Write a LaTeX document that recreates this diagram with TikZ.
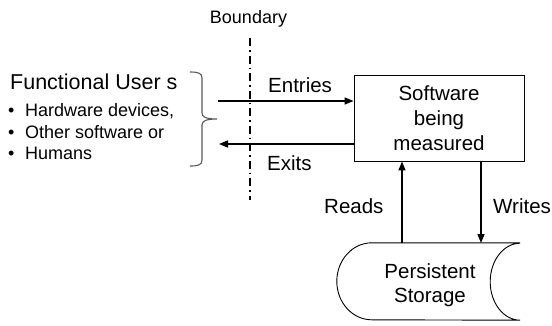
\documentclass[tikz,border=0pt]{standalone}
\usepackage{fontspec}
\setmainfont{Liberation Sans}
\usetikzlibrary{arrows.meta}
\begin{document}
\begin{tikzpicture}[x=1pt,y=-1pt,
  flow/.style={line width=1.4pt,-{Triangle[length=9pt,width=7pt]}},
  lbl/.style={font=\fontsize{20.5}{24}\selectfont,inner sep=0pt,anchor=base west},
  bul/.style={font=\fontsize{18}{21}\selectfont,inner sep=0pt,anchor=base west},
  outline/.style={line width=0.9pt,draw=black}]
\useasboundingbox (0,0) rectangle (552,325);

% system boundary
\node[font=\fontsize{18}{21}\selectfont,inner sep=0pt,anchor=base] (blabel) at (248.5,23) {Boundary};
\coordinate (btop) at (250,38);
\coordinate (bbot) at (250,200);
\draw[line width=1.6pt,dash pattern=on 8pt off 4pt on 1.5pt off 4pt] (btop) -- (bbot);

% functional users
\node[font=\fontsize{21.5}{24}\selectfont,inner sep=0pt,anchor=base west] (fu) at (10,89) {Functional User s};
\node[bul] (b1) at (8,116) {\makebox[17pt][l]{•}Hardware devices,};
\node[bul] (b2) at (8,138) {\makebox[17pt][l]{•}Other software or};
\node[bul] (b3) at (8,159) {\makebox[17pt][l]{•}Humans};
\draw[line width=1.1pt,draw=black!65]
  (190,72) .. controls (198,72) and (202,73) .. (202,78) -- (202,113)
  .. controls (202,117) and (206,119) .. (217,119)
  .. controls (206,119) and (202,121) .. (202,125) -- (202,160)
  .. controls (202,165) and (198,166) .. (190,166);

% software being measured
\node[outline,minimum width=170pt,minimum height=86pt,inner sep=0pt,align=center,
  font=\fontsize{20.5}{25}\selectfont] (box) at (439,118) {Software\\being\\measured};

% persistent storage
\node[minimum width=148pt,minimum height=77pt,inner sep=0pt] (store) at (446,281.5) {};
\draw[outline] (store.north east) -- (store.north west)
  arc[start angle=90,end angle=270,x radius=35pt,y radius=38.5pt]
  -- (store.south east)
  arc[start angle=270,end angle=90,x radius=30pt,y radius=38.5pt];
\node[align=center,inner sep=0pt,font=\fontsize{20.5}{24}\selectfont] (slabel) at (430,285) {Persistent\\Storage};

% data movements
\coordinate (ein) at (218,101);
\coordinate (eout) at (219,144);
\coordinate (rd) at (402,243);
\coordinate (wr) at (481,243);
\draw[flow] (ein) -- (ein -| box.west);
\draw[flow] (eout -| box.west) -- (eout);
\draw[flow] (rd) -- (rd |- box.south);
\draw[flow] (wr |- box.south) -- (wr);

\node[lbl] (lentries) at (268,92) {Entries};
\node[lbl] (lexits) at (267,170) {Exits};
\node[lbl] (lreads) at (324,213) {Reads};
\node[lbl] (lwrites) at (493,213) {Writes};
\end{tikzpicture}
\end{document}
